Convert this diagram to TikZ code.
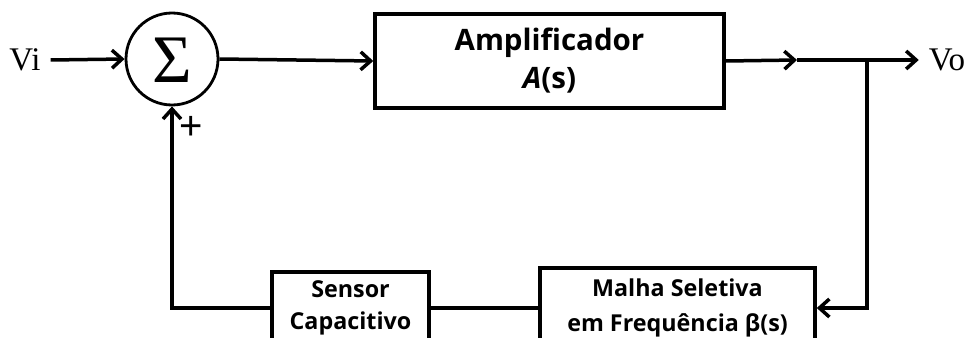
\documentclass[tikz,border=0pt]{standalone}
\usepackage{fontspec}
\setmainfont{Liberation Serif}
\newfontfamily\osans{Open Sans}
\newfontfamily\lsans{Liberation Sans}
\usetikzlibrary{arrows.meta}
\tikzset{
  wire/.style={line width=3.5pt},
  arr/.style={wire,-{Straight Barb[length=10pt,width=18pt,line width=3.5pt]}},
  blk/.style={draw,line width=3.5pt,rectangle,inner sep=0pt,align=center,font=\osans\bfseries},
  lbl/.style={inner sep=0pt}
}
\begin{document}
\begin{tikzpicture}[x=1pt,y=-1pt]
\useasboundingbox (0,0) rectangle (968,337);
\clip (0,0) rectangle (968,337);
\node[lbl,font=\fontsize{33}{33}\selectfont] (vi) at (25,60) {Vi};
\node[lbl,font=\fontsize{33}{33}\selectfont] (vo) at (947,60) {Vo};
\node[draw,circle,line width=2.8pt,minimum size=92pt,inner sep=0pt] (sum) at (172,59) {};
\node[lbl,font=\fontsize{68}{68}\selectfont] (sig) at (172,60) {Σ};
\node[blk,minimum width=349pt,minimum height=94pt,font=\osans\bfseries\fontsize{29.5}{38}\selectfont] (amp) at (549.5,61) {Amplificador\\\textit{A}(s)};
\node[blk,minimum width=275pt,minimum height=80pt,font=\osans\bfseries\fontsize{23.3}{35}\selectfont] (malha) at (677.5,308) {Malha Seletiva\\em Frequência β(s)};
\node[blk,minimum width=157pt,minimum height=72pt,font=\osans\bfseries\fontsize{23.3}{32}\selectfont] (sensor) at (350.5,308) {Sensor\\Capacitivo};
\node[lbl,font=\lsans\fontsize{40}{40}\selectfont] (plus) at (191,128) {+};
\coordinate (m1) at (797,60);
\coordinate (br) at (867,60);
\draw[arr] (vi.east) ++(10pt,0) -- (sum.west);
\draw[arr] (sum.east) -- (amp.west);
\draw[arr] (amp.east) -- (m1);
\draw[arr] (m1) -- ([xshift=-10pt]vo.west);
\draw[arr] (br) |- (malha.east);
\draw[wire] (malha.west) -- (sensor.east);
\draw[arr] (sensor.west) -| (sum.south);
\end{tikzpicture}
\end{document}
